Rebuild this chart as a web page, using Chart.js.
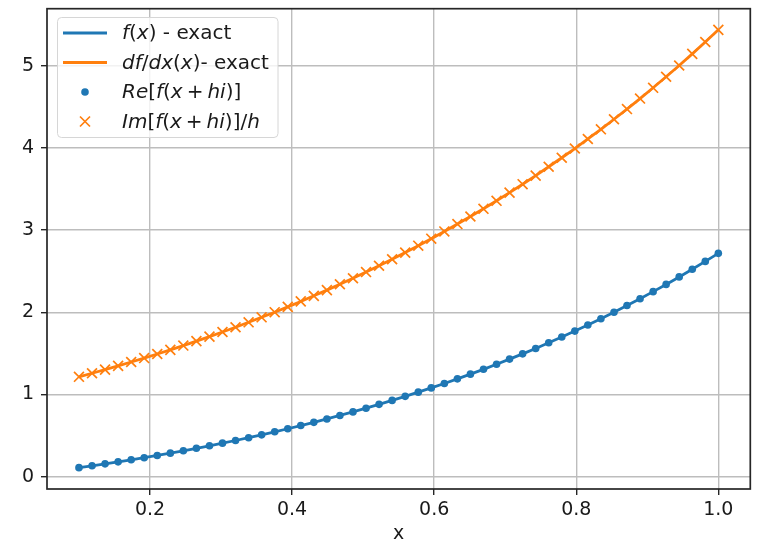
<!DOCTYPE html>
<html>
<head>
<meta charset="utf-8">
<script src="https://cdn.jsdelivr.net/npm/chart.js@4.4.1/dist/chart.umd.min.js"></script>
<style>
  html, body { margin: 0; padding: 0; background: #fff; }
  #wrap { width: 759px; height: 545px; }
</style>
</head>
<body>
<div id="wrap"><canvas id="chart" width="759" height="545"></canvas></div>
<script>
// -------------------------------
// Data
// -------------------------------
const xValues = [0.1, 0.1184, 0.1367, 0.1551, 0.1735, 0.1918, 0.2102, 0.2286, 0.2469, 0.2653,
  0.2837, 0.302, 0.3204, 0.3388, 0.3571, 0.3755, 0.3939, 0.4122, 0.4306, 0.449,
  0.4673, 0.4857, 0.5041, 0.5224, 0.5408, 0.5592, 0.5776, 0.5959, 0.6143, 0.6327,
  0.651, 0.6694, 0.6878, 0.7061, 0.7245, 0.7429, 0.7612, 0.7796, 0.798, 0.8163,
  0.8347, 0.8531, 0.8714, 0.8898, 0.9082, 0.9265, 0.9449, 0.9633, 0.9816, 1.0];

const fValues = [0.111, 0.133, 0.157, 0.181, 0.206, 0.232, 0.259, 0.287, 0.316, 0.346,
  0.377, 0.409, 0.441, 0.475, 0.510, 0.547, 0.584, 0.623, 0.662, 0.703,
  0.746, 0.789, 0.834, 0.881, 0.929, 0.978, 1.029, 1.081, 1.135, 1.191,
  1.248, 1.307, 1.368, 1.431, 1.495, 1.561, 1.630, 1.700, 1.772, 1.847,
  1.923, 2.002, 2.083, 2.166, 2.252, 2.340, 2.431, 2.524, 2.620, 2.718];

const dfValues = [1.216, 1.259, 1.303, 1.349, 1.396, 1.444, 1.493, 1.544, 1.596, 1.650,
  1.705, 1.761, 1.819, 1.879, 1.940, 2.002, 2.067, 2.133, 2.201, 2.270,
  2.342, 2.415, 2.490, 2.567, 2.646, 2.727, 2.811, 2.896, 2.984, 3.074,
  3.166, 3.260, 3.357, 3.457, 3.559, 3.663, 3.771, 3.881, 3.993, 4.109,
  4.227, 4.349, 4.473, 4.601, 4.732, 4.866, 5.003, 5.144, 5.289, 5.437];

const xTicks = [0.2, 0.4, 0.6, 0.8, 1.0];
const yTicks = [0, 1, 2, 3, 4, 5];

// -------------------------------
// Style
// -------------------------------
const BLUE = "#1f77b4";
const ORANGE = "#ff7f0e";
const FONT = "'DejaVu Sans', 'Liberation Sans', sans-serif";
const TEXT = "#1a1a1a";
const SPINE = "#262626";
const GRID = "#bdbdbd";

const toPoints = (ys) => xValues.map((x, i) => ({ x, y: ys[i] }));

// legend entries: text split into italic (i) / normal (n) runs
const PLUS = "\u2009+\u2009";
const legendItems = [
  { kind: "line", color: BLUE,
    parts: [["f", "i"], ["(", "n"], ["x", "i"], [")", "n"], [" - exact", "n"]] },
  { kind: "line", color: ORANGE,
    parts: [["df", "i"], ["/", "n"], ["dx", "i"], ["(", "n"], ["x", "i"], [")", "n"], ["- exact", "n"]] },
  { kind: "dot", color: BLUE,
    parts: [["Re", "i"], ["[", "n"], ["f", "i"], ["(", "n"], ["x", "i"], [PLUS, "n"], ["hi", "i"], [")]", "n"]] },
  { kind: "cross", color: ORANGE,
    parts: [["Im", "i"], ["[", "n"], ["f", "i"], ["(", "n"], ["x", "i"], [PLUS, "n"], ["hi", "i"], [")]/", "n"], ["h", "i"]] },
];

// -------------------------------
// Frame + legend plugin
// -------------------------------
const framePlugin = {
  id: "frameLegend",
  afterDraw(chart) {
    const { ctx, chartArea: a } = chart;
    ctx.save();
    ctx.strokeStyle = SPINE;
    ctx.lineWidth = 1.7;
    ctx.strokeRect(a.left, a.top, a.right - a.left, a.bottom - a.top);

    // legend box
    const bx = 57.5, by = 17.5, bw = 220.5, bh = 120;
    ctx.beginPath();
    if (ctx.roundRect) ctx.roundRect(bx, by, bw, bh, 4);
    else ctx.rect(bx, by, bw, bh);
    ctx.fillStyle = "rgba(255,255,255,0.8)";
    ctx.fill();
    ctx.strokeStyle = "#d6d6d6";
    ctx.lineWidth = 1;
    ctx.stroke();

    const rowY = [33, 62.5, 92, 121.5];
    const hx0 = 63, hx1 = 107, hxc = 85, tx = 122;
    legendItems.forEach((item, k) => {
      const y = rowY[k];
      if (item.kind === "line") {
        ctx.strokeStyle = item.color;
        ctx.lineWidth = 2.8;
        ctx.beginPath();
        ctx.moveTo(hx0, y);
        ctx.lineTo(hx1, y);
        ctx.stroke();
      } else if (item.kind === "dot") {
        ctx.fillStyle = item.color;
        ctx.beginPath();
        ctx.arc(hxc, y, 3.8, 0, Math.PI * 2);
        ctx.fill();
      } else {
        ctx.strokeStyle = item.color;
        ctx.lineWidth = 1.7;
        ctx.beginPath();
        ctx.moveTo(hxc - 5, y - 5); ctx.lineTo(hxc + 5, y + 5);
        ctx.moveTo(hxc - 5, y + 5); ctx.lineTo(hxc + 5, y - 5);
        ctx.stroke();
      }
      ctx.fillStyle = TEXT;
      ctx.textBaseline = "middle";
      ctx.textAlign = "left";
      let x = tx;
      item.parts.forEach(([t, s]) => {
        ctx.font = (s === "i" ? "italic " : "") + "20px " + FONT;
        ctx.fillText(t, x, y + 1);
        x += ctx.measureText(t).width;
      });
    });
    ctx.restore();
  },
};

// -------------------------------
// Chart
// -------------------------------
new Chart(document.getElementById("chart").getContext("2d"), {
  type: "line",
  data: {
    datasets: [
      { label: "f(x) - exact", data: toPoints(fValues), borderColor: BLUE,
        borderWidth: 2.8, pointRadius: 0, order: 4 },
      { label: "df/dx(x)- exact", data: toPoints(dfValues), borderColor: ORANGE,
        borderWidth: 2.8, pointRadius: 0, order: 3 },
      { label: "Re[f(x+hi)]", data: toPoints(fValues), showLine: false,
        pointStyle: "circle", pointRadius: 3.8, backgroundColor: BLUE,
        borderWidth: 0, order: 2 },
      { label: "Im[f(x+hi)]/h", data: toPoints(dfValues), showLine: false,
        pointStyle: "crossRot", pointRadius: 7, borderColor: ORANGE,
        pointBorderWidth: 1.7, order: 1 },
    ],
  },
  options: {
    responsive: false,
    animation: false,
    events: [],
    layout: { padding: { left: 0, right: 7, top: 7, bottom: 0 } },
    plugins: { legend: { display: false }, tooltip: { enabled: false } },
    scales: {
      x: {
        type: "linear",
        min: 0.055,
        max: 1.045,
        afterBuildTicks: (s) => { s.ticks = xTicks.map((v) => ({ value: v })); },
        afterFit: (s) => { s.height = 56; s.paddingLeft = 0; s.paddingRight = 0; },
        ticks: {
          font: { family: FONT, size: 19 },
          color: TEXT,
          padding: 4,
          maxRotation: 0,
          callback: (v) => v.toFixed(1),
        },
        grid: { color: GRID, lineWidth: 1.4, tickColor: SPINE, tickLength: 6, tickWidth: 1.4 },
        border: { display: false },
        title: {
          display: true, text: "x", color: TEXT,
          font: { family: FONT, size: 19 }, padding: { top: 0, bottom: 0 },
        },
      },
      y: {
        type: "linear",
        min: -0.149,
        max: 5.694,
        afterBuildTicks: (s) => { s.ticks = yTicks.map((v) => ({ value: v })); },
        afterFit: (s) => { s.width = 47; s.paddingTop = 0; s.paddingBottom = 0; },
        ticks: {
          font: { family: FONT, size: 19 },
          color: TEXT,
          padding: 7,
          callback: (v) => String(v),
        },
        grid: { color: GRID, lineWidth: 1.4, tickColor: SPINE, tickLength: 6, tickWidth: 1.4 },
        border: { display: false },
      },
    },
  },
  plugins: [framePlugin],
});
</script>
</body>
</html>
